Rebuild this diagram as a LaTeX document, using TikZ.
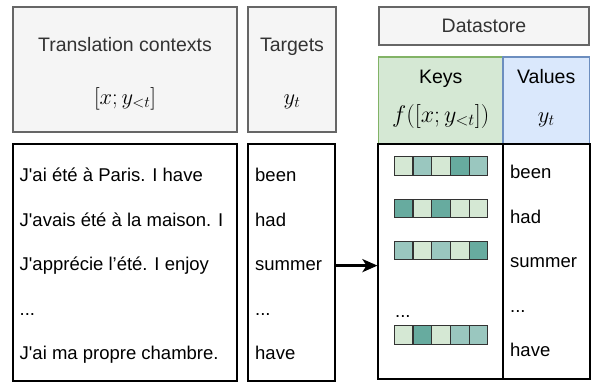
\RequirePackage{fix-cm}
\documentclass[tikz,border=0pt]{standalone}
\usepackage{fontspec}
\setmainfont{Liberation Sans}[Ligatures=TeXOff]
\usetikzlibrary{arrows.meta,positioning,calc}

\definecolor{headfill}{HTML}{F5F5F5}
\definecolor{headline}{HTML}{666666}
\definecolor{headtext}{HTML}{333333}
\definecolor{keyfill}{HTML}{D5E8D4}
\definecolor{keyline}{HTML}{82B366}
\definecolor{valfill}{HTML}{DAE8FC}
\definecolor{valline}{HTML}{6C8EBF}
\definecolor{cellL}{HTML}{D5E8D4}
\definecolor{cellM}{HTML}{9AC7BF}
\definecolor{cellD}{HTML}{67AB9F}

\newcommand{\moredots}{...}

\begin{document}
\begin{tikzpicture}[
    x=1pt, y=-1pt,
    head/.style={rectangle, draw=headline, fill=headfill, line width=1.1pt, inner sep=0},
    body/.style={rectangle, draw, fill=white, line width=1.1pt, inner sep=0},
    title/.style={anchor=base, inner sep=0, text=headtext, font=\fontsize{19.5}{23}\selectfont},
    formula/.style={anchor=base, inner sep=0, text=black, font=\fontsize{22.5}{26}\selectfont},
    row/.style={anchor=base west, inner sep=0, font=\fontsize{18.5}{22}\selectfont},
    cell/.style={rectangle, draw=headtext, line width=1.1pt, minimum width=18.7pt, minimum height=18.3pt, inner sep=0},
    feed/.style={-{Stealth[length=15pt,width=13pt,inset=4pt]}, line width=2.6pt}
]
    \useasboundingbox (0,0) rectangle (592,383);

    % Header boxes
    \node[head, minimum width=224pt, minimum height=125pt] (ctxhead) at (125,69.5) {};
    \node[head, minimum width=88pt, minimum height=125pt] (tgthead) at (292,69.5) {};
    \node[head, minimum width=210pt, minimum height=38pt] (dshead) at (484,26) {};
    \node[head, draw=keyline, fill=keyfill, minimum width=124.5pt, minimum height=87pt] (keyhead) at (440.75,100.5) {};
    \node[head, draw=valline, fill=valfill, minimum width=86.5pt, minimum height=87pt] (valhead) at (546.25,100.5) {};

    \node[title] (ctxtitle) at (125,51.7) {Translation contexts};
    \node[formula] (ctxmath) at (125,104) {$[x;y_{<t}]$};
    \node[title] (tgttitle) at (292,51.7) {Targets};
    \node[formula] (tgtmath) at (292,104) {$y_t$};
    \node[title] (dstitle) at (484,32.5) {Datastore};
    \node[title, text=black] (keytitle) at (440.75,83.5) {Keys};
    \node[formula, font=\fontsize{24}{28}\selectfont] (keymath) at (440.75,122) {$f([x;y_{<t}])$};
    \node[title, text=black] (valtitle) at (546.25,83.5) {Values};
    \node[formula] (valmath) at (546.25,122) {$y_t$};

    % Body boxes
    \node[body, minimum width=224pt, minimum height=237pt] (ctxbody) at (125,262.5) {};
    \node[body, minimum width=87pt, minimum height=237pt] (tgtbody) at (291.5,262.5) {};
    \node[body, minimum width=125pt, minimum height=235pt] (keybody) at (440.5,261.5) {};
    \node[body, minimum width=87pt, minimum height=235pt] (valbody) at (546.5,261.5) {};

    % Rows
    \foreach \i/\ctx/\tgt in {0/J'ai été à Paris. I have/been, 1/J'avais été à la maison. I/had,
                               2/J'apprécie l’été. I enjoy/summer, 3/\moredots/\moredots, 4/J'ai ma propre chambre./have} {
        \node[row] (ctx\i) at (19.5,181.5+44.5*\i) {\ctx};
        \node[row] (tgt\i) at (255,181.5+44.5*\i) {\tgt};
        \node[row] (val\i) at (510,178.5+44.5*\i) {\tgt};
    }

    % Key vectors
    \foreach \r/\y/\pat in {0/166/{L,M,L,D,M}, 1/208.5/{D,L,D,L,L}, 2/250.5/{M,L,M,L,D}, 3/335/{L,D,L,M,M}} {
        \foreach \col [count=\c] in \pat {
            \node[cell, fill=cell\col] (vec\r\c) at (384.95+18.7*\c,\y) {};
        }
    }
    \node[row] (keydots) at (395,317) {\moredots};

    \draw[feed] (tgtbody.east |- ctx2) -- (keybody.west |- ctx2);
\end{tikzpicture}
\end{document}
